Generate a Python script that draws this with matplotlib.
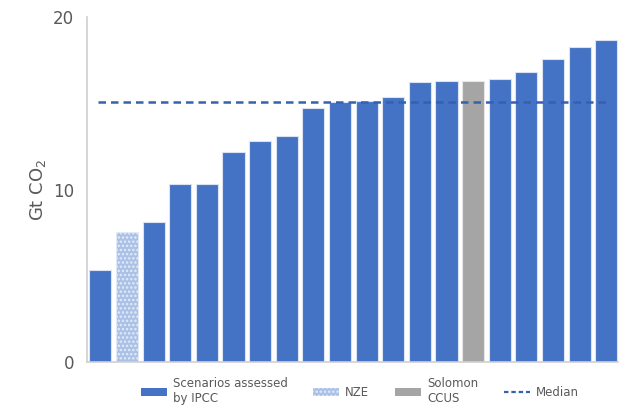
import matplotlib.pyplot as plt
import matplotlib.patches as mpatches
from matplotlib.lines import Line2D

# removal values per scenario, sorted ascending (Gt CO2)
values = [5.33, 7.55, 8.13, 10.32, 10.32, 12.17, 12.81, 13.1, 14.72, 15.07,
          15.13, 15.36, 16.23, 16.29, 16.29, 16.4, 16.8, 17.57, 18.26, 18.67]
kinds = ['ipcc', 'nze', 'ipcc', 'ipcc', 'ipcc', 'ipcc', 'ipcc', 'ipcc', 'ipcc', 'ipcc',
         'ipcc', 'ipcc', 'ipcc', 'ipcc', 'solomon', 'ipcc', 'ipcc', 'ipcc', 'ipcc', 'ipcc']
median = 15.07
legend_labels = ['Scenarios assessed\nby IPCC', 'NZE', 'Solomon\nCCUS', 'Median']

blue = '#4472c4'
light_blue = '#aac0e6'
grey = '#a5a5a5'
text_col = '#595959'
median_col = '#3461b0'

plt.rcParams['font.family'] = 'DejaVu Sans'
plt.rcParams['hatch.linewidth'] = 1.2

fig = plt.figure(figsize=(6.34, 4.08), dpi=100)
ax = fig.add_axes([0.137, 0.1127, 0.838, 0.8456])

x = list(range(len(values)))
for xi, v, k in zip(x, values, kinds):
    if k == 'nze':
        ax.bar(xi, v, width=0.83, color=light_blue, edgecolor='#e3ebf8',
               hatch='....', linewidth=0.6)
    elif k == 'solomon':
        ax.bar(xi, v, width=0.83, color=grey, edgecolor='#e6e6e6', linewidth=0.8)
    else:
        ax.bar(xi, v, width=0.83, color=blue, edgecolor='#dbe3f2', linewidth=0.8)

ax.hlines(median, -0.1, 19.0, colors=median_col, linestyles=(0, (3, 2)),
          linewidth=1.8, zorder=3)

ax.set_xlim(-0.51, 19.45)
ax.set_ylim(0, 20)
ax.set_yticks([0, 10, 20])
ax.set_xticks([])
ax.tick_params(axis='y', length=0, pad=9, labelsize=12, labelcolor=text_col)
ax.set_ylabel('Gt CO$_2$', fontsize=13, color=text_col, labelpad=4)

for s in ['top', 'right']:
    ax.spines[s].set_visible(False)
ax.spines['left'].set_color('#d0d0d0')
ax.spines['bottom'].set_color('#d0d0d0')
ax.spines['left'].set_linewidth(1.2)
ax.spines['bottom'].set_linewidth(1.2)

handles = [
    mpatches.Patch(facecolor=blue, edgecolor='none'),
    mpatches.Patch(facecolor=light_blue, edgecolor='#e3ebf8', hatch='....', linewidth=0),
    mpatches.Patch(facecolor=grey, edgecolor='none'),
    Line2D([0], [0], color=median_col, linestyle=(0, (2, 1.3)), linewidth=1.6),
]
fig.legend(handles, legend_labels, loc='upper left', bbox_to_anchor=(0.222, 0.075),
           ncol=4, frameon=False, fontsize=8.5, labelcolor=text_col,
           handlelength=2.2, handleheight=0.6, handletextpad=0.5,
           columnspacing=2.2, borderaxespad=0, borderpad=0)

fig.savefig('out.png', dpi=100)
